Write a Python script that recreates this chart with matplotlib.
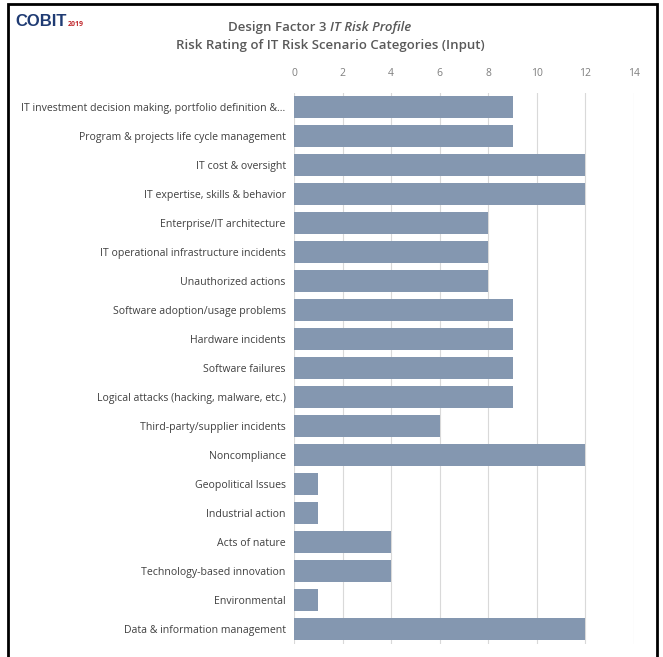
import matplotlib
matplotlib.use("Agg")
import matplotlib.pyplot as plt
from matplotlib.patches import Rectangle

categories = [
    "IT investment decision making, portfolio definition &...",
    "Program & projects life cycle management",
    "IT cost & oversight",
    "IT expertise, skills & behavior",
    "Enterprise/IT architecture",
    "IT operational infrastructure incidents",
    "Unauthorized actions",
    "Software adoption/usage problems",
    "Hardware incidents",
    "Software failures",
    "Logical attacks (hacking, malware, etc.)",
    "Third-party/supplier incidents",
    "Noncompliance",
    "Geopolitical Issues",
    "Industrial action",
    "Acts of nature",
    "Technology-based innovation",
    "Environmental",
    "Data & information management",
]
values = [9, 9, 12, 12, 8, 8, 8, 9, 9, 9, 9, 6, 12, 1, 1, 4, 4, 1, 12]
xticks = [0, 2, 4, 6, 8, 10, 12, 14]

plt.rcParams['font.family'] = ['Open Sans', 'DejaVu Sans']

W, H = 663, 657
fig = plt.figure(figsize=(W / 100, H / 100), dpi=100)
fig.patch.set_facecolor("white")

ax = fig.add_axes([294 / W, 1 - 643.5 / H, (634 - 294) / W, (643.5 - 92.5) / H])
ypos = list(range(len(categories)))
ax.barh(ypos, values, height=0.76, color="#8497B0", zorder=3)
ax.set_ylim(len(categories) - 0.5, -0.5)
ax.set_xlim(0, 14)
ax.set_xticks(xticks)
ax.set_xticklabels([str(t) for t in xticks])
ax.xaxis.tick_top()
ax.tick_params(axis="x", length=0, labelsize=7.5, labelcolor="#7f7f7f", pad=10)
ax.set_yticks(ypos)
ax.set_yticklabels(categories)
ax.tick_params(axis="y", length=0, labelsize=7.6, labelcolor="#404040", pad=6)
ax.grid(axis="x", color="#d9d9d9", linewidth=0.8, zorder=0)
for s in ax.spines.values():
    s.set_visible(False)

# Titles
fig.text(330 / W, 1 - 27 / H, "Design Factor 3 ", ha="right", va="center",
         fontsize=9.5, color="#595959", fontweight="semibold")
fig.text(330 / W, 1 - 27 / H, "IT Risk Profile", ha="left", va="center",
         fontsize=9.5, color="#595959", fontweight="semibold", style="italic")
fig.text(330 / W, 1 - 45.5 / H, "Risk Rating of IT Risk Scenario Categories (Input)",
         ha="center", va="center", fontsize=9.5, color="#595959", fontweight="semibold")

# Logo
logo = fig.text(15 / W, 1 - 21 / H, "COBIT", ha="left", va="center", fontsize=12,
                color="#1f3b73", fontweight="bold", family=["Liberation Sans", "DejaVu Sans"])
fig.canvas.draw()
bb = logo.get_window_extent(renderer=fig.canvas.get_renderer())
fig.text(bb.x1 / W + 1 / W, 1 - 25 / H, "2019", ha="left", va="center", fontsize=5,
         color="#c0282d", fontweight="bold")

# Border
fig.add_artist(Rectangle((8 / W, -0.05), (657 - 8) / W, 1.05 - 4 / H,
                         transform=fig.transFigure, fill=False,
                         edgecolor="black", linewidth=2))

fig.savefig("out.png", dpi=100)
